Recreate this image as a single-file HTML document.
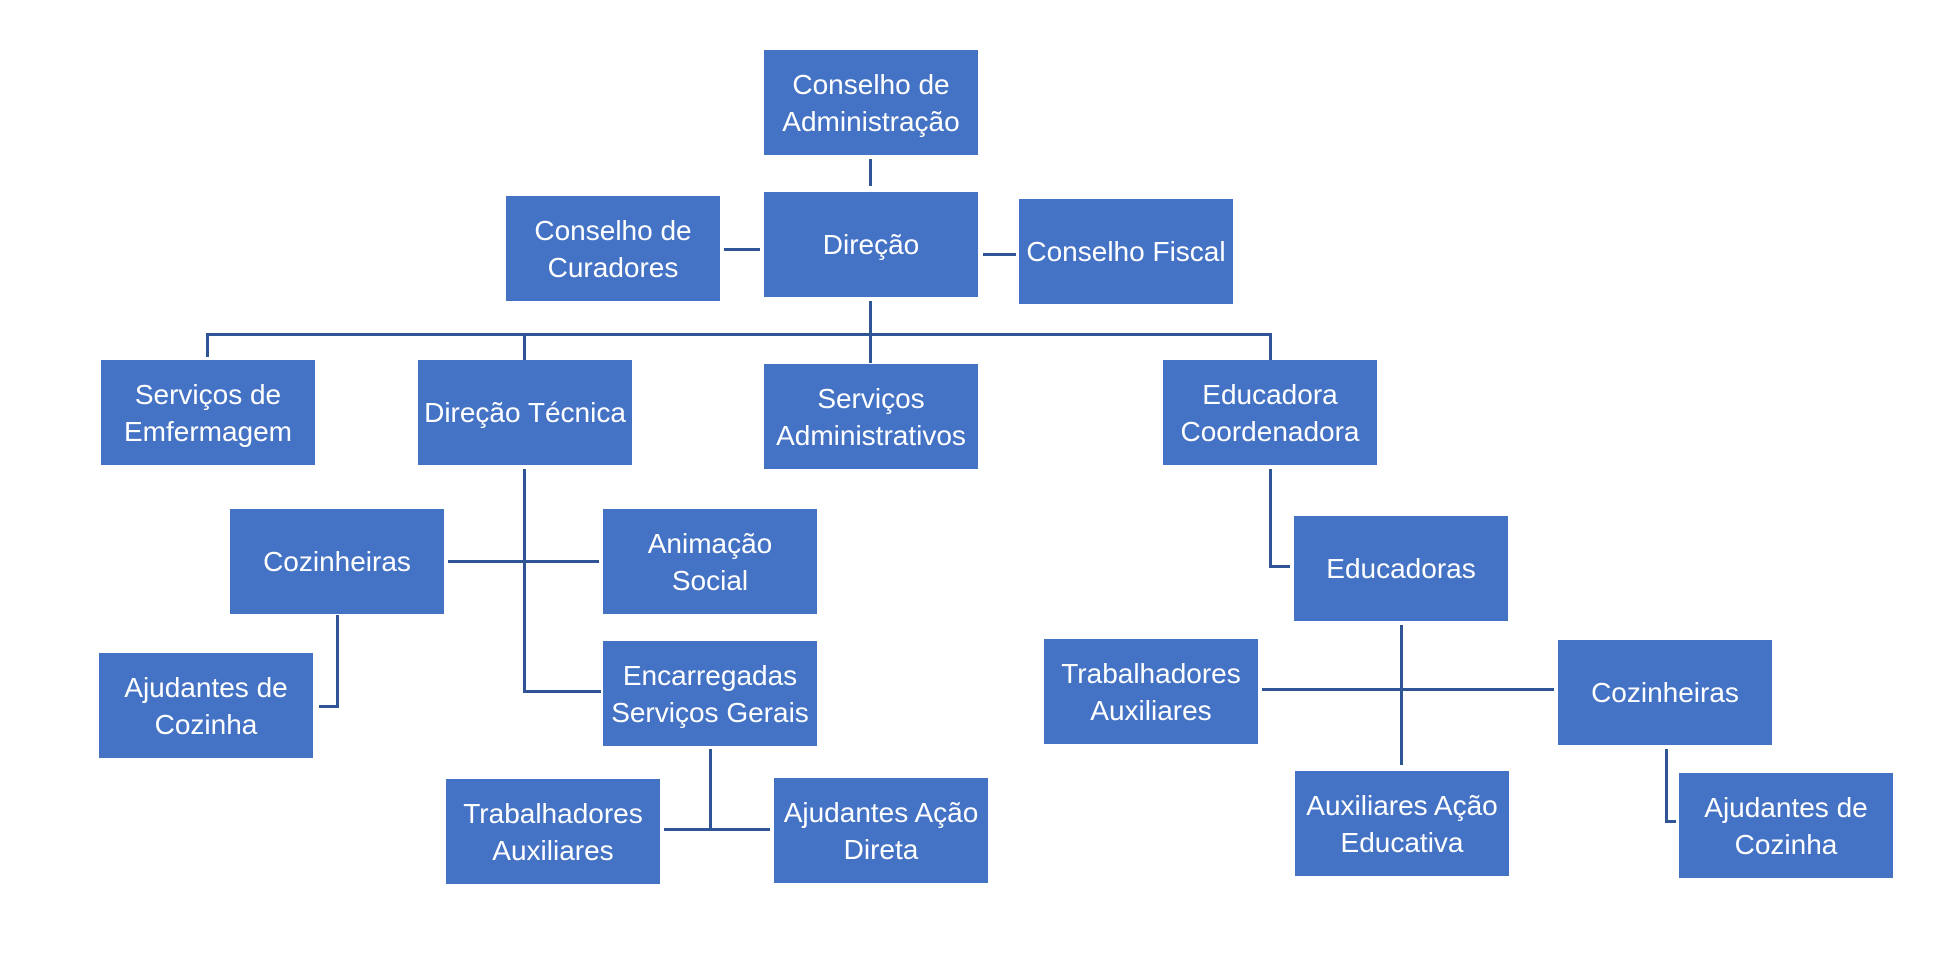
<!DOCTYPE html>
<html><head><meta charset="utf-8"><style>
html,body{margin:0;padding:0;background:#fff;}
body{width:1960px;height:978px;position:relative;overflow:hidden;font-family:"Liberation Sans Narrow","Liberation Sans",sans-serif;}
.b{position:absolute;background:#4472C4;color:#fff;display:flex;align-items:center;justify-content:center;text-align:center;font-size:28px;line-height:37px;width:214px;height:105px;}
.l{position:absolute;background:#2F5597;}
</style></head><body>
<div class="l" style="left:869px;top:159px;width:3px;height:27px"></div>
<div class="l" style="left:724px;top:248px;width:36px;height:3px"></div>
<div class="l" style="left:983px;top:253px;width:33px;height:3px"></div>
<div class="l" style="left:869px;top:301px;width:3px;height:62px"></div>
<div class="l" style="left:206px;top:333px;width:1066px;height:3px"></div>
<div class="l" style="left:206px;top:333px;width:3px;height:24px"></div>
<div class="l" style="left:523px;top:333px;width:3px;height:27px"></div>
<div class="l" style="left:1269px;top:333px;width:3px;height:27px"></div>
<div class="l" style="left:523px;top:469px;width:3px;height:223px"></div>
<div class="l" style="left:523px;top:690px;width:78px;height:3px"></div>
<div class="l" style="left:448px;top:560px;width:151px;height:3px"></div>
<div class="l" style="left:336px;top:615px;width:3px;height:92px"></div>
<div class="l" style="left:319px;top:705px;width:20px;height:3px"></div>
<div class="l" style="left:709px;top:749px;width:3px;height:81px"></div>
<div class="l" style="left:664px;top:828px;width:106px;height:3px"></div>
<div class="l" style="left:1269px;top:469px;width:3px;height:98px"></div>
<div class="l" style="left:1269px;top:565px;width:21px;height:3px"></div>
<div class="l" style="left:1400px;top:625px;width:3px;height:140px"></div>
<div class="l" style="left:1262px;top:688px;width:292px;height:3px"></div>
<div class="l" style="left:1665px;top:749px;width:3px;height:74px"></div>
<div class="l" style="left:1665px;top:820px;width:11px;height:3px"></div>

<div class="b" style="left:764px;top:50px">Conselho de<br>Administração</div>
<div class="b" style="left:506px;top:196px">Conselho de<br>Curadores</div>
<div class="b" style="left:764px;top:192px">Direção</div>
<div class="b" style="left:1019px;top:199px">Conselho Fiscal</div>
<div class="b" style="left:101px;top:360px">Serviços de<br>Emfermagem</div>
<div class="b" style="left:418px;top:360px">Direção Técnica</div>
<div class="b" style="left:764px;top:364px">Serviços<br>Administrativos</div>
<div class="b" style="left:1163px;top:360px">Educadora<br>Coordenadora</div>
<div class="b" style="left:230px;top:509px">Cozinheiras</div>
<div class="b" style="left:603px;top:509px">Animação<br>Social</div>
<div class="b" style="left:99px;top:653px">Ajudantes de<br>Cozinha</div>
<div class="b" style="left:603px;top:641px">Encarregadas<br>Serviços Gerais</div>
<div class="b" style="left:446px;top:779px">Trabalhadores<br>Auxiliares</div>
<div class="b" style="left:774px;top:778px">Ajudantes Ação<br>Direta</div>
<div class="b" style="left:1294px;top:516px">Educadoras</div>
<div class="b" style="left:1044px;top:639px">Trabalhadores<br>Auxiliares</div>
<div class="b" style="left:1558px;top:640px">Cozinheiras</div>
<div class="b" style="left:1295px;top:771px">Auxiliares Ação<br>Educativa</div>
<div class="b" style="left:1679px;top:773px">Ajudantes de<br>Cozinha</div>
</body></html>
